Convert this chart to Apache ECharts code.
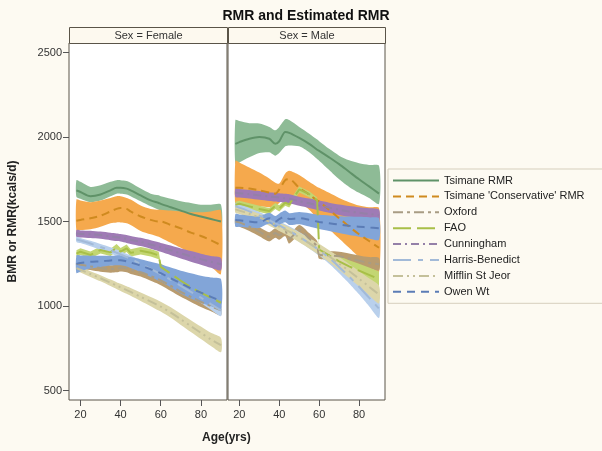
<!DOCTYPE html>
<html>
<head>
<meta charset="utf-8">
<script src="https://cdn.jsdelivr.net/npm/echarts@6/dist/echarts.min.js"></script>
<style>
  html, body { margin: 0; padding: 0; background: #fdfaf2; }
  #chart { width: 602px; height: 451px; }
</style>
</head>
<body>
<div id="chart"></div>
<script>
var ages = [18, 20, 25, 30, 35, 38, 40, 43, 45, 50, 55, 59, 60, 65, 70, 75, 80, 85, 90]
var xTicks = [20, 40, 60, 80]
var yTicks = [500, 1000, 1500, 2000, 2500]
var names = ['Tsimane RMR', "Tsimane 'Conservative' RMR", 'Oxford', 'FAO', 'Cunningham', 'Harris-Benedict', 'Mifflin St Jeor', 'Owen Wt']
var panels = ['Sex = Female', 'Sex = Male']

// Female
var tsiF_hi = [1745, 1735, 1705, 1715, 1735, 1745, 1745, 1740, 1730, 1695, 1665, 1655, 1650, 1635, 1620, 1610, 1600, 1600, 1600]
var tsiF_mid = [1685, 1675, 1650, 1660, 1685, 1700, 1700, 1695, 1685, 1655, 1625, 1610, 1605, 1585, 1565, 1545, 1530, 1515, 1500]
var tsiF_lo = [1645, 1635, 1615, 1625, 1650, 1665, 1665, 1660, 1650, 1620, 1590, 1570, 1565, 1540, 1515, 1490, 1465, 1445, 1425]
var conF_hi = [1630, 1625, 1615, 1625, 1640, 1650, 1650, 1640, 1630, 1595, 1575, 1570, 1570, 1565, 1560, 1555, 1555, 1560, 1565]
var conF_mid = [1505, 1510, 1520, 1535, 1560, 1575, 1580, 1575, 1560, 1530, 1510, 1500, 1500, 1480, 1460, 1435, 1415, 1390, 1360]
var conF_lo = [1445, 1450, 1455, 1470, 1490, 1495, 1495, 1490, 1480, 1445, 1425, 1410, 1405, 1375, 1345, 1310, 1275, 1235, 1190]
var oxfF_hi = [1272, 1267, 1257, 1247, 1242, 1245, 1252, 1250, 1240, 1226, 1205, 1186, 1180, 1150, 1115, 1085, 1055, 1030, 1005]
var oxfF_mid = [1250, 1245, 1235, 1225, 1220, 1222, 1228, 1225, 1215, 1200, 1178, 1158, 1152, 1120, 1085, 1055, 1025, 1000, 975]
var oxfF_lo = [1228, 1223, 1213, 1203, 1198, 1200, 1205, 1200, 1190, 1175, 1150, 1130, 1124, 1090, 1055, 1025, 995, 970, 945]
var faoF_hi = [1330, 1342, 1323, 1352, 1340, 1367, 1344, 1364, 1337, 1350, 1338, 1322, 1252, 1212, 1170, 1132, 1100, 1070, 1040]
var faoF_mid = [1310, 1322, 1303, 1332, 1318, 1345, 1322, 1342, 1315, 1328, 1316, 1300, 1232, 1192, 1150, 1112, 1080, 1050, 1020]
var faoF_lo = [1290, 1302, 1283, 1312, 1296, 1323, 1300, 1320, 1293, 1306, 1294, 1278, 1212, 1172, 1130, 1092, 1060, 1030, 1000]
var cunF_hi = [1450, 1448, 1446, 1441, 1434, 1430, 1427, 1421, 1415, 1404, 1390, 1378, 1374, 1358, 1341, 1326, 1310, 1296, 1284]
var cunF_mid = [1430, 1428, 1425, 1420, 1412, 1408, 1405, 1398, 1392, 1380, 1365, 1352, 1348, 1330, 1312, 1295, 1278, 1262, 1248]
var cunF_lo = [1408, 1406, 1403, 1398, 1390, 1385, 1382, 1374, 1368, 1355, 1339, 1325, 1321, 1301, 1282, 1263, 1245, 1227, 1212]
var hbF_hi = [1410, 1403, 1386, 1367, 1348, 1335, 1325, 1310, 1300, 1272, 1243, 1219, 1213, 1182, 1148, 1115, 1082, 1046, 1010]
var hbF_mid = [1395, 1388, 1370, 1350, 1330, 1316, 1306, 1290, 1280, 1250, 1220, 1195, 1188, 1155, 1120, 1085, 1050, 1012, 975]
var hbF_lo = [1380, 1373, 1354, 1333, 1312, 1297, 1287, 1270, 1260, 1228, 1197, 1171, 1163, 1128, 1092, 1055, 1018, 978, 940]
var mifF_hi = [1240, 1231, 1207, 1183, 1157, 1142, 1132, 1117, 1107, 1080, 1054, 1032, 1026, 993, 955, 917, 879, 842, 812]
var mifF_mid = [1225, 1215, 1190, 1165, 1138, 1122, 1111, 1095, 1084, 1055, 1027, 1003, 997, 962, 922, 882, 842, 803, 770]
var mifF_lo = [1210, 1199, 1173, 1147, 1119, 1102, 1090, 1073, 1061, 1030, 1000, 974, 968, 931, 889, 847, 805, 764, 728]
var owF_hi = [1300, 1300, 1300, 1298, 1298, 1300, 1300, 1295, 1290, 1278, 1262, 1250, 1248, 1228, 1210, 1195, 1180, 1170, 1160]
var owF_mid = [1250, 1255, 1262, 1265, 1270, 1272, 1272, 1265, 1258, 1240, 1218, 1200, 1195, 1165, 1135, 1105, 1080, 1055, 1030]
var owF_lo = [1195, 1205, 1222, 1232, 1240, 1242, 1242, 1235, 1225, 1200, 1172, 1150, 1145, 1110, 1075, 1045, 1020, 1000, 985]

// Male
var tsiM_hi = [2100, 2095, 2082, 2080, 2060, 2040, 2060, 2105, 2100, 2060, 2020, 1985, 1975, 1930, 1890, 1862, 1845, 1835, 1830]
var tsiM_mid = [1960, 1970, 1990, 2000, 1990, 1960, 1975, 2030, 2025, 1995, 1960, 1925, 1918, 1880, 1840, 1795, 1750, 1708, 1665]
var tsiM_lo = [1840, 1850, 1880, 1905, 1910, 1890, 1905, 1945, 1950, 1945, 1910, 1870, 1860, 1805, 1750, 1705, 1670, 1640, 1605]
var conM_hi = [1860, 1850, 1820, 1790, 1755, 1730, 1725, 1785, 1800, 1775, 1735, 1705, 1700, 1670, 1640, 1615, 1595, 1585, 1580]
var conM_mid = [1700, 1700, 1695, 1685, 1672, 1665, 1690, 1745, 1750, 1700, 1660, 1625, 1618, 1570, 1520, 1470, 1425, 1385, 1345]
var conM_lo = [1590, 1595, 1595, 1590, 1585, 1590, 1610, 1650, 1655, 1620, 1570, 1520, 1510, 1455, 1400, 1345, 1290, 1245, 1200]
var oxfM_hi = [1525, 1520, 1495, 1466, 1437, 1460, 1448, 1470, 1426, 1480, 1432, 1385, 1330, 1326, 1322, 1312, 1300, 1290, 1285]
var oxfM_mid = [1500, 1495, 1470, 1440, 1410, 1432, 1420, 1442, 1398, 1450, 1400, 1352, 1305, 1300, 1295, 1282, 1268, 1256, 1248]
var oxfM_lo = [1475, 1470, 1445, 1414, 1383, 1404, 1392, 1414, 1370, 1420, 1368, 1319, 1280, 1274, 1268, 1252, 1236, 1222, 1211]
var faoM_hi = [1618, 1623, 1608, 1593, 1580, 1610, 1596, 1630, 1620, 1708, 1680, 1643, 1355, 1325, 1295, 1272, 1250, 1228, 1205]
var faoM_mid = [1600, 1605, 1590, 1575, 1562, 1592, 1578, 1612, 1602, 1690, 1662, 1625, 1335, 1300, 1265, 1235, 1210, 1185, 1160]
var faoM_lo = [1582, 1587, 1572, 1557, 1544, 1574, 1560, 1594, 1584, 1672, 1644, 1607, 1315, 1278, 1237, 1200, 1170, 1142, 1115]
var cunM_hi = [1695, 1693, 1687, 1681, 1674, 1671, 1668, 1664, 1662, 1647, 1636, 1627, 1624, 1612, 1601, 1592, 1585, 1579, 1572]
var cunM_mid = [1670, 1668, 1662, 1655, 1648, 1645, 1642, 1638, 1635, 1620, 1608, 1598, 1595, 1582, 1570, 1560, 1552, 1545, 1538]
var cunM_lo = [1645, 1643, 1637, 1629, 1622, 1619, 1616, 1612, 1608, 1593, 1580, 1569, 1566, 1552, 1539, 1528, 1519, 1511, 1504]
var hbM_hi = [1610, 1602, 1581, 1557, 1531, 1514, 1503, 1484, 1472, 1439, 1403, 1373, 1365, 1320, 1270, 1216, 1160, 1100, 1040]
var hbM_mid = [1590, 1582, 1560, 1535, 1508, 1490, 1478, 1458, 1445, 1410, 1372, 1340, 1332, 1285, 1232, 1175, 1115, 1050, 985]
var hbM_lo = [1570, 1562, 1539, 1513, 1485, 1466, 1453, 1432, 1418, 1381, 1341, 1307, 1299, 1250, 1194, 1134, 1070, 1000, 930]
var mifM_hi = [1592, 1585, 1567, 1546, 1522, 1506, 1495, 1478, 1467, 1436, 1403, 1376, 1369, 1330, 1290, 1249, 1207, 1165, 1120]
var mifM_mid = [1572, 1565, 1546, 1524, 1499, 1482, 1470, 1452, 1440, 1407, 1372, 1343, 1336, 1295, 1252, 1208, 1162, 1115, 1068]
var mifM_lo = [1552, 1545, 1525, 1502, 1476, 1458, 1445, 1426, 1413, 1378, 1341, 1310, 1303, 1260, 1214, 1167, 1117, 1065, 1016]
var owM_hi = [1545, 1542, 1535, 1530, 1552, 1533, 1548, 1565, 1550, 1556, 1549, 1541, 1540, 1536, 1532, 1530, 1528, 1525, 1520]
var owM_mid = [1510, 1508, 1500, 1495, 1520, 1500, 1515, 1530, 1515, 1520, 1510, 1500, 1498, 1490, 1482, 1475, 1470, 1465, 1460]
var owM_lo = [1470, 1470, 1465, 1462, 1488, 1467, 1482, 1496, 1480, 1484, 1471, 1459, 1456, 1444, 1432, 1420, 1410, 1400, 1392]

// styles for each method, same order as names
var styles = [
  { band: '#8ebb96', line: '#5f9268', type: 'solid', smooth: 0.3 },
  { band: '#f5a94d', line: '#cf8a1f', type: [8, 5], smooth: 0.3 },
  { band: '#b99c6f', line: '#a89c84', type: [10, 4, 3, 4], smooth: 0.3 },
  { band: '#c3d672', line: '#a8bf48', type: [18, 6], smooth: false },
  { band: '#9f7bb5', line: '#9480a8', type: [8, 4, 2, 4], smooth: 0.3 },
  { band: '#b9d0ec', line: '#a2bad8', type: [18, 7, 5, 7], smooth: 0.3 },
  { band: '#dcd6aa', line: '#c4c09a', type: [10, 4, 2, 4, 2, 4], smooth: 0.3 },
  { band: '#82a5d8', line: '#5b7cb6', type: [8, 6], smooth: 0.3 }
]

var female = [
  [tsiF_lo, tsiF_mid, tsiF_hi], [conF_lo, conF_mid, conF_hi], [oxfF_lo, oxfF_mid, oxfF_hi], [faoF_lo, faoF_mid, faoF_hi],
  [cunF_lo, cunF_mid, cunF_hi], [hbF_lo, hbF_mid, hbF_hi], [mifF_lo, mifF_mid, mifF_hi], [owF_lo, owF_mid, owF_hi]
]
var male = [
  [tsiM_lo, tsiM_mid, tsiM_hi], [conM_lo, conM_mid, conM_hi], [oxfM_lo, oxfM_mid, oxfM_hi], [faoM_lo, faoM_mid, faoM_hi],
  [cunM_lo, cunM_mid, cunM_hi], [hbM_lo, hbM_mid, hbM_hi], [mifM_lo, mifM_mid, mifM_hi], [owM_lo, owM_mid, owM_hi]
]

function pairs (vals) {
  return ages.map(function (a, i) { return [a, vals[i]] })
}

// band as one polygon through the axis scales, then the line on top
function curve (gi, k, set) {
  var st = styles[k]
  var lo = set[0], mid = set[1], hi = set[2]
  return [
    {
      type: 'custom', xAxisIndex: gi, yAxisIndex: gi, silent: true, clip: true,
      data: ages.map(function (a, i) { return [a, lo[i], hi[i]] }),
      encode: { x: 0, y: [1, 2] },
      renderItem: function (params, api) {
        if (params.dataIndex !== 0) return null
        var top = ages.map(function (a, i) { return api.coord([a, hi[i]]) })
        var bot = ages.map(function (a, i) { return api.coord([a, lo[i]]) }).reverse()
        return {
          type: 'polygon',
          shape: { points: top.concat(bot), smooth: st.smooth ? 0.25 : 0 },
          style: { fill: st.band }
        }
      }
    },
    {
      type: 'line', name: names[k], xAxisIndex: gi, yAxisIndex: gi,
      data: pairs(mid), symbol: 'none', smooth: st.smooth,
      lineStyle: { color: st.line, width: 2, type: st.type }, itemStyle: { color: st.line }
    }
  ]
}

var series = []
female.forEach(function (s, k) { series = series.concat(curve(0, k, s)) })
male.forEach(function (s, k) { series = series.concat(curve(1, k, s)) })

function xAx (gi) {
  return {
    type: 'value', gridIndex: gi, min: 14.3, max: 93,
    splitLine: { show: false },
    axisLine: { show: false },
    axisTick: { show: true, length: 6, lineStyle: { color: '#555' }, customValues: xTicks },
    axisLabel: { color: '#333', fontSize: 11, fontFamily: 'Liberation Sans', margin: 9, customValues: xTicks }
  }
}
function yAx (gi) {
  return {
    type: 'value', gridIndex: gi, min: 445, max: 2556,
    splitLine: { show: false },
    axisLine: { show: false },
    axisTick: { show: gi === 0, length: 6, lineStyle: { color: '#555' }, customValues: yTicks },
    axisLabel: {
      show: gi === 0, color: '#333', fontSize: 11, fontFamily: 'Liberation Sans', margin: 7, customValues: yTicks,
      formatter: function (v) { return String(v) }
    },
    name: gi === 0 ? 'BMR or RMR(kcals/d)' : '',
    nameLocation: 'middle', nameGap: 50, nameRotate: 90,
    nameTextStyle: { fontWeight: 'bold', fontSize: 12, color: '#222', fontFamily: 'Liberation Sans' }
  }
}

function strip (x, w, label) {
  return {
    type: 'group', left: x, top: 27,
    children: [
      { type: 'rect', shape: { x: 0, y: 0, width: w, height: 16 }, style: { fill: '#fdf9ef', stroke: '#5a5448', lineWidth: 1 } },
      { type: 'text', x: w / 2, y: 8, style: { text: label, fill: '#333', font: '11px "Liberation Sans"', align: 'center', verticalAlign: 'middle' } }
    ]
  }
}

var chart = echarts.init(document.getElementById('chart'))
chart.setOption({
  backgroundColor: '#fdfaf2',
  animation: false,
  title: {
    text: 'RMR and Estimated RMR', left: 301, top: 4, textAlign: 'center',
    textStyle: { fontSize: 14, fontWeight: 'bold', color: '#111', fontFamily: 'Liberation Sans' }
  },
  legend: {
    data: names, orient: 'vertical', left: 388, top: 169,
    padding: [6, 30, 6, 4], itemWidth: 46, itemHeight: 12, itemGap: 4.9,
    borderColor: '#d6cfbd', borderWidth: 1,
    itemStyle: { opacity: 0 },
    lineStyle: { width: 2 },
    textStyle: { color: '#222', fontSize: 11, fontFamily: 'Liberation Sans' }
  },
  grid: [
    { left: 69, top: 43, width: 158, height: 357, show: true, backgroundColor: '#fff', borderColor: '#5a5448', borderWidth: 1 },
    { left: 228, top: 43, width: 157, height: 357, show: true, backgroundColor: '#fff', borderColor: '#5a5448', borderWidth: 1 }
  ],
  xAxis: [xAx(0), xAx(1)],
  yAxis: [yAx(0), yAx(1)],
  graphic: [
    strip(69, 158, panels[0]),
    strip(228, 157, panels[1]),
    { type: 'text', left: 202, top: 432, style: { text: 'Age(yrs)', fill: '#222', font: 'bold 12px "Liberation Sans"' } }
  ],
  series: series
})
</script>
</body>
</html>
